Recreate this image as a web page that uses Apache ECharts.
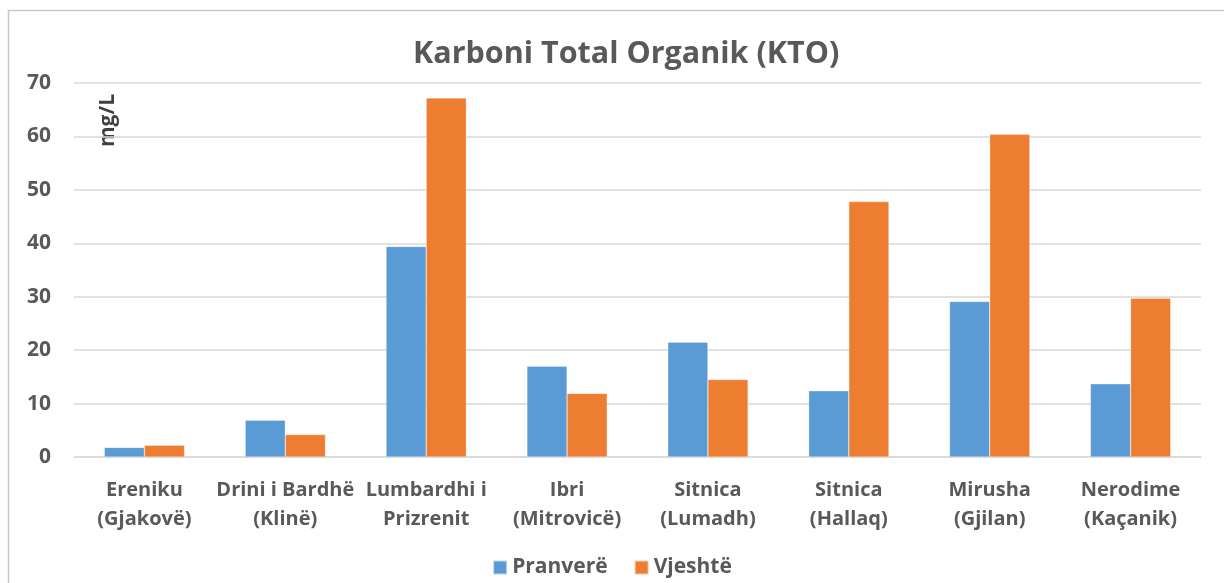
<!DOCTYPE html>
<html>
<head>
<meta charset="utf-8">
<script src="https://cdn.jsdelivr.net/npm/echarts@6/dist/echarts.min.js"></script>
<style>
html,body{margin:0;padding:0;background:#fff;}
#chart{width:1224px;height:583px;}
</style>
</head>
<body>
<div id="chart"></div>
<script>
// stacioni (kategoritë)
var categories = ['Ereniku\n(Gjakovë)', 'Drini i Bardhë\n(Klinë)', 'Lumbardhi i\nPrizrenit', 'Ibri\n(Mitrovicë)',
	'Sitnica\n(Lumadh)', 'Sitnica\n(Hallaq)', 'Mirusha\n(Gjilan)', 'Nerodime\n(Kaçanik)'];
var pranvere = [1.8, 6.9, 39.4, 17.0, 21.5, 12.4, 29.1, 13.7];
var vjeshte = [2.2, 4.2, 67.2, 11.9, 14.5, 47.8, 60.4, 29.7];
var yTicks = [0, 10, 20, 30, 40, 50, 60, 70];

var font = '"Open Sans", sans-serif';
var grey = '#595959';

var myChart = echarts.init(document.getElementById('chart'));
var option = {
	animation: false,
	color: ['#5B9BD5', '#ED7D31'],
	title: {
		text: 'Karboni Total Organik (KTO)',
		left: 408,
		top: 34,
		textStyle: {fontFamily: font, fontSize: 30.5, fontWeight: 'bold', color: grey}
	},
	legend: {
		left: 'center',
		top: 552,
		itemWidth: 14,
		itemHeight: 14,
		itemGap: 26,
		icon: 'rect',
		textStyle: {fontFamily: font, fontSize: 21, fontWeight: 'bold', color: grey}
	},
	grid: {left: 74, right: 23, top: 83, bottom: 126},
	xAxis: {
		type: 'category',
		data: categories,
		axisLine: {lineStyle: {color: '#d9d9d9', width: 1.5}},
		axisTick: {show: false},
		axisLabel: {
			interval: 0,
			margin: 19,
			lineHeight: 29,
			fontFamily: font, fontSize: 20, fontWeight: 'bold', color: grey
		}
	},
	yAxis: {
		type: 'value',
		min: yTicks[0],
		max: yTicks[yTicks.length - 1],
		interval: 10,
		axisLine: {show: false},
		axisTick: {show: false},
		splitLine: {lineStyle: {color: '#d9d9d9', width: 1.5}},
		axisLabel: {margin: 23, fontFamily: font, fontSize: 21, fontWeight: 'bold', color: grey}
	},
	graphic: [{
		type: 'rect',
		shape: {x: 8.5, y: 10.5, width: 1300, height: 700},
		style: {fill: 'none', stroke: '#c8c8c8', lineWidth: 1.5},
		silent: true
	}, {
		type: 'text',
		x: 98,
		y: 147,
		rotation: Math.PI / 2,
		style: {text: 'mg/L', fontSize: 21, fontWeight: 'bold', fontFamily: font, fill: '#404040'}
	}],
	series: [{
		name: 'Pranverë',
		type: 'bar',
		data: pranvere,
		barGap: '0%',
		barCategoryGap: '43%',
		itemStyle: {borderColor: 'rgba(255,255,255,0.6)', borderWidth: 0.5}
	}, {
		name: 'Vjeshtë',
		type: 'bar',
		data: vjeshte,
		barGap: '0%',
		barCategoryGap: '43%',
		itemStyle: {borderColor: 'rgba(255,255,255,0.6)', borderWidth: 0.5}
	}]
};
myChart.setOption(option);
</script>
</body>
</html>
